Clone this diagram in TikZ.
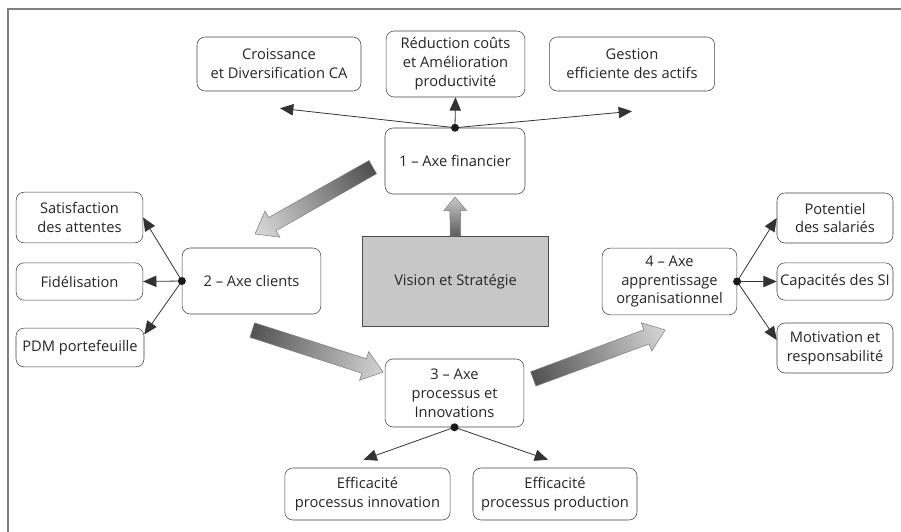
\documentclass[tikz,border=0pt]{standalone}
\usepackage{fontspec}
\setmainfont{Open Sans}
\usetikzlibrary{shapes.arrows,arrows.meta,calc}
\pgfdeclarehorizontalshading{fatshade}{100bp}{color(0bp)=(black!85); color(100bp)=(white)}

\begin{document}
\begin{tikzpicture}[x=0.75pt,y=-0.75pt,
  box/.style={draw=black!75,rounded corners=6pt,align=center,fill=white,inner sep=0pt,
    font=\fontsize{11}{14.2}\selectfont,text=black!85},
  link/.style={draw=black!80,line width=0.6pt,-{Triangle[length=10pt,width=8.5pt]}},
  fatarr/.style={single arrow,draw=black!50,line width=0.4pt,anchor=tail,inner sep=5.5pt,
    single arrow head extend=5.6pt,single arrow tip angle=74,shading=fatshade},
  smallarr/.style={fatarr,inner sep=3.75pt,single arrow head extend=4.5pt,single arrow tip angle=80}]
\useasboundingbox (0,0) rectangle (901,532);
\draw[black!50,line width=1.2pt] (901,9) -- (8,9) -- (8,532); % frame

% axe financier
\node[box,minimum width=105pt,minimum height=49.5pt] (fin) at (455,161) {1 -- Axe financier};
\node[box,minimum width=123pt,minimum height=40.5pt] (cro) at (279,64) {Croissance\\et Diversification CA};
\node[box,minimum width=104pt,minimum height=49.5pt] (red) at (455.5,64) {Réduction coûts\\et Amélioration\\productivité};
\node[box,minimum width=124pt,minimum height=40.5pt] (ges) at (632,64) {Gestion\\efficiente des actifs};

% vision
\node[draw=black!70,line width=0.9pt,fill=black!22,minimum width=140pt,minimum height=67pt,
  font=\fontsize{11}{14.2}\selectfont,text=black!85] (vis) at (455.5,281.5) {Vision et Stratégie};

% axe clients
\node[box,minimum width=104pt,minimum height=49.5pt] (cli) at (251.5,281) {2 -- Axe clients};
\node[box,minimum width=95pt,minimum height=38pt] (sat) at (79.5,217.5) {Satisfaction\\des attentes};
\node[box,minimum width=95pt,minimum height=28pt] (fid) at (79.5,281.5) {Fidélisation};
\node[box,minimum width=96pt,minimum height=29pt] (pdm) at (80,347.5) {PDM portefeuille};

% axe processus
\node[box,minimum width=104pt,minimum height=51pt] (pro) at (454.5,393) {3 -- Axe\\processus et\\Innovations};
\node[box,minimum width=124pt,minimum height=39pt] (inn) at (367.5,494) {Efficacité\\processus innovation};
\node[box,minimum width=123pt,minimum height=39pt] (prd) at (555,494) {Efficacité\\processus production};

% axe apprentissage
\node[box,minimum width=101pt,minimum height=50pt] (app) at (669.5,281.5) {4 -- Axe\\apprentissage\\organisationnel};
\node[box,minimum width=87pt,minimum height=37.5pt] (pot) at (835,218) {Potentiel\\des salariés};
\node[box,minimum width=87pt,minimum height=28pt] (cap) at (835,281.5) {Capacités des SI};
\node[box,minimum width=87pt,minimum height=37.5pt] (mot) at (835,348) {Motivation et\\responsabilité};

% free ends
\coordinate (cro1) at ($(cro.south)+(1,17)$);
\coordinate (ges1) at ($(ges.south)+(0,20)$);
\coordinate (inn1) at ($(inn.north)+(-4,-8)$);
\coordinate (prd1) at ($(prd.north)+(-7,-8)$);
\coordinate (pdm1) at ($(pdm.east)+(0,-13)$);
\coordinate (mot1) at ($(mot.west)+(0,-8)$);

\foreach \t in {cro1,red.south,ges1} \draw[link] (fin.north) -- (\t);
\foreach \t in {sat.east,fid.east,pdm1} \draw[link] (cli.west) -- (\t);
\foreach \t in {inn1,prd1} \draw[link] (pro.south) -- (\t);
\foreach \t in {pot.west,cap.west,mot1} \draw[link] (app.east) -- (\t);
\foreach \d in {fin.north,cli.west,pro.south,app.east} \fill[black!90] (\d) circle (3pt);

% shaded arrows between the axes
\coordinate (t12) at (373,167); \coordinate (h12) at (255,234);
\coordinate (t23) at (252,330); \coordinate (h23) at (383,372);
\coordinate (t34) at (533,379); \coordinate (h34) at (665,330);
\coordinate (hup) at ($(fin.south)+(0,3)$);
\foreach \a/\b/\s in {t12/h12/fatarr,t23/h23/fatarr,t34/h34/fatarr,vis.north/hup/smallarr}
  \path let \p1=($(\b)-(\a)$), \n1={atan2(\y1,\x1)}, \n2={veclen(\x1,\y1)} in
    node[\s,minimum height=\n2,rotate=\n1,shading angle=\n1] at (\a) {};
\end{tikzpicture}
\end{document}
